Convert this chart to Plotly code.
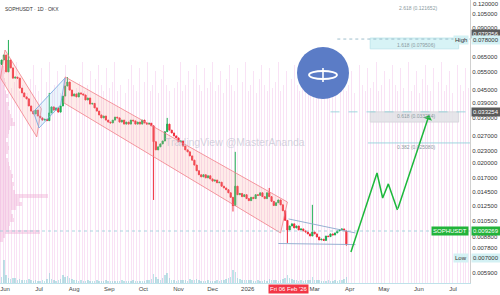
import numpy as np
import pandas as pd
import plotly.graph_objects as go

# ---------------- data ----------------
start_date = "2025-05-29"
closes = [
    0.0630, 0.0666, 0.0552, 0.0630, 0.0577, 0.0515, 0.0521, 0.0515, 0.0461, 0.0437,
    0.0418, 0.0409, 0.0378, 0.0357, 0.0346, 0.0361, 0.0338, 0.0331, 0.0323, 0.0326,
    0.0321, 0.0350, 0.0374, 0.0361, 0.0370, 0.0353, 0.0378, 0.0422, 0.0472, 0.0493,
    0.0451, 0.0422, 0.0432, 0.0418, 0.0437, 0.0432, 0.0427, 0.0404, 0.0413, 0.0386,
    0.0389, 0.0370, 0.0357, 0.0342, 0.0331, 0.0338, 0.0323, 0.0316, 0.0313, 0.0323,
    0.0334, 0.0331, 0.0316, 0.0323, 0.0309, 0.0316, 0.0309, 0.0323, 0.0320, 0.0309,
    0.0316, 0.0309, 0.0323, 0.0313, 0.0309, 0.0312, 0.0303, 0.0254, 0.0232, 0.0240,
    0.0248, 0.0256, 0.0284, 0.0309, 0.0289, 0.0280, 0.0271, 0.0265, 0.0254, 0.0256,
    0.0242, 0.0232, 0.0227, 0.0217, 0.0207, 0.0196, 0.0184, 0.0176, 0.0172, 0.0176,
    0.0170, 0.0174, 0.0168, 0.0164, 0.0166, 0.0161, 0.0162, 0.0155, 0.0152, 0.0149,
    0.0144, 0.0137, 0.0125, 0.0155, 0.0141, 0.0143, 0.0138, 0.0141, 0.0135, 0.0132,
    0.0137, 0.0135, 0.0141, 0.0140, 0.0144, 0.0138, 0.0135, 0.0144, 0.0138, 0.0131,
    0.0125, 0.0129, 0.0133, 0.0126, 0.0118, 0.0106, 0.00953, 0.00996, 0.0102, 0.00975,
    0.00996, 0.00953, 0.00964, 0.00943, 0.00932, 0.00912, 0.00891, 0.00932, 0.00912, 0.00881,
    0.00853, 0.00860, 0.00848, 0.00891, 0.00885, 0.00912, 0.00901, 0.00922, 0.00943, 0.00953,
    0.00964, 0.00943, 0.00816,
]
first_open = 0.0600
spike_high = {3: 0.0787, 21: 0.0437, 29: 0.0521, 67: 0.0303, 73: 0.0331,
              103: 0.0227, 118: 0.0152, 137: 0.0126}
spike_low = {67: 0.0133, 102: 0.0117, 126: 0.00825, 152: 0.0080}

volumes = [
    6, 23, 8, 5, 4, 5, 5, 3, 4, 3,
    3, 3, 4, 3, 2, 3, 2, 2, 3, 2,
    4, 10, 4, 3, 2, 3, 4, 8, 6, 7,
    5, 4, 3, 3, 2, 3, 2, 2, 3, 2,
    2, 2, 3, 2, 2, 2, 3, 2, 2, 2,
    2, 2, 2, 3, 2, 2, 2, 2, 3, 2,
    2, 2, 2, 2, 3, 3, 4, 9, 6, 4,
    3, 5, 8, 10, 5, 3, 3, 2, 3, 3,
    3, 3, 2, 4, 3, 3, 4, 3, 2, 2,
    2, 3, 2, 2, 2, 3, 2, 3, 3, 4,
    5, 6, 13, 11, 5, 4, 3, 3, 3, 3,
    3, 2, 2, 3, 2, 2, 3, 2, 4, 3,
    3, 3, 2, 3, 4, 5, 8, 5, 4, 3,
    3, 2, 3, 2, 3, 3, 3, 6, 3, 3,
    3, 2, 2, 2, 3, 2, 2, 3, 2, 3,
    3, 4, 6,
]

# visible-range volume profile (price level, volume)
vp_prices = [0.06025, 0.05763, 0.05512, 0.05273, 0.05043, 0.04824, 0.04614, 0.04413,
             0.04221, 0.04038, 0.03862, 0.03694, 0.03533, 0.03380, 0.03233, 0.03092,
             0.02958, 0.02829, 0.02706, 0.02588, 0.02476, 0.02368, 0.02265, 0.02167,
             0.02072, 0.01982, 0.01896, 0.01814, 0.01735, 0.01659, 0.01587, 0.01518,
             0.01452, 0.01389, 0.01329, 0.01271, 0.01216, 0.01163, 0.01112, 0.01064,
             0.01018, 0.00973, 0.00931, 0.00890, 0.00852]
vp_volumes = [3, 4, 5, 4, 5, 6, 5, 6, 7, 6, 8, 7, 9, 10, 12, 14, 9, 8, 7, 6,
              7, 8, 7, 6, 7, 8, 9, 10, 12, 11, 13, 12, 14, 45, 18, 20, 15, 10, 12, 13,
              9, 8, 37, 5, 3]

# drawings
channel1_dates = ["2025-06-01", "2025-07-03", "2025-06-29", "2025-05-28"]
channel1_prices = [0.0704, 0.0366, 0.0268, 0.0516]
rising_dates = ["2025-06-26", "2025-07-24", "2025-07-20", "2025-07-01"]
rising_prices = [0.0354, 0.0516, 0.0382, 0.0296]
channel2_dates = ["2025-07-24", "2026-02-05", "2026-01-30", "2025-07-23"]
channel2_prices = [0.0522, 0.0130, 0.00922, 0.0391]
tri_upper_dates = ["2026-02-06", "2026-04-06"]
tri_upper_prices = [0.01077, 0.00922]
tri_lower_dates = ["2026-01-28", "2026-04-06"]
tri_lower_prices = [0.0082, 0.0081]
proj_dates = ["2026-04-02", "2026-04-25", "2026-04-30", "2026-05-05", "2026-05-13"]
proj_prices = [0.00746, 0.01795, 0.0136, 0.0159, 0.0119]
arrow_tip_date, arrow_tip_price = "2026-06-10", 0.0342

current_price = 0.00942
current_label = "0.009269"

fib_texts = ["2.618 (0.121652)", "1.618 (0.079506)", "0.618 (0.033254)", "0.382 (0.025080)"]
fib_line_prices = [0.0795, 0.0354, 0.02506]

ytick_vals = [0.105, 0.09, 0.065, 0.055, 0.045, 0.039, 0.033, 0.027, 0.023,
              0.020, 0.017, 0.0145, 0.0125, 0.0105, 0.0088, 0.0078, 0.0059]
top_tick = 0.12
month_ticks = ["2025-06-01", "2025-07-01", "2025-08-01", "2025-09-01", "2025-10-01",
               "2025-11-01", "2025-12-01", "2026-01-01", "2026-03-01", "2026-04-01",
               "2026-05-01", "2026-06-01", "2026-07-01"]
month_labels = ["Jun", "Jul", "Aug", "Sep", "Oct", "Nov", "Dec", "2026", "Mar", "Apr",
                "May", "Jun", "Jul"]
stripe_pattern = [0.77, 0.70, 0.68, 0.76, 0.69, 0.71, 0.78, 0.68, 0.70, 0.75, 0.67, 0.72]

# ---------------- build ----------------
X0, X1 = "2025-05-27 14:00", "2026-07-16 00:00"
ylo, yhi = 0.005286, 0.1227
DAY = 86400000

dates = pd.date_range(start_date, periods=len(closes), freq="2D")
opens = [first_open] + closes[:-1]
highs = [spike_high.get(i, max(o, c)) for i, (o, c) in enumerate(zip(opens, closes))]
lows = [spike_low.get(i, min(o, c)) for i, (o, c) in enumerate(zip(opens, closes))]

fig = go.Figure()

# background stripes (base subplot)
stripe_x = pd.date_range("2025-05-28", X1, freq="57h36min")
stripe_y = [stripe_pattern[i % len(stripe_pattern)] for i in range(len(stripe_x))]
fig.add_trace(go.Bar(x=stripe_x, y=stripe_y, width=0.8 * DAY, yaxis="y",
                     marker=dict(color="rgba(240,185,232,0.42)", line=dict(width=0)),
                     hoverinfo="skip"))

# volume profile
fig.add_trace(go.Bar(y=np.log10(vp_prices), x=[v * 0.95 * DAY for v in vp_volumes],
                     base=X0, orientation="h", width=0.016, yaxis="y2",
                     marker=dict(color="rgba(236,160,205,0.38)", line=dict(width=0)),
                     hoverinfo="skip"))

# volume
fig.add_trace(go.Bar(x=dates, y=volumes, width=1.3 * DAY, yaxis="y3",
                     marker=dict(color="rgba(110,195,205,0.45)", line=dict(width=0)),
                     hoverinfo="skip"))

def poly(dts, prs, fill, line):
    fig.add_trace(go.Scatter(x=dts + dts[:1], y=prs + prs[:1], yaxis="y4", mode="lines",
                             fill="toself", fillcolor=fill, line=dict(color=line, width=1),
                             hoverinfo="skip"))

poly(channel1_dates, channel1_prices, "rgba(250,170,155,0.22)", "rgba(240,120,130,0.75)")
poly(channel2_dates, channel2_prices, "rgba(250,170,155,0.22)", "rgba(240,120,130,0.75)")
poly(rising_dates, rising_prices, "rgba(160,215,240,0.22)", "rgba(120,170,225,0.85)")

def line(dts, prs, color, width=1, dash="solid"):
    fig.add_trace(go.Scatter(x=dts, y=prs, yaxis="y4", mode="lines",
                             line=dict(color=color, width=width, dash=dash), hoverinfo="skip"))

line(tri_upper_dates, tri_upper_prices, "rgba(140,170,205,0.9)")
line(tri_lower_dates, tri_lower_prices, "rgba(140,170,205,0.9)")
line([X0, X1], [current_price] * 2, "rgba(150,205,215,0.8)", 1, "dot")

# fib boxes
box_d = ["2026-04-19", "2026-07-06"]
poly([box_d[0], box_d[1], box_d[1], box_d[0]], [0.0804, 0.0804, 0.0713, 0.0713],
     "rgba(205,240,244,0.8)", "rgba(190,230,236,0.9)")
poly([box_d[0], box_d[1], box_d[1], box_d[0]], [0.0354, 0.0354, 0.0316, 0.0316],
     "rgba(226,226,230,0.85)", "rgba(215,215,220,0.9)")
line(["2026-03-21", X1], [fib_line_prices[0]] * 2, "rgba(150,185,200,0.9)", 1, "dot")
line(["2026-03-15", X1], [fib_line_prices[1]] * 2, "rgba(150,210,220,0.9)", 1, "dash")
line(["2026-04-17", X1], [fib_line_prices[2]] * 2, "rgba(150,210,220,0.9)", 1)

# candles
fig.add_trace(go.Candlestick(x=dates, open=opens, high=highs, low=lows, close=closes,
                             yaxis="y4", whiskerwidth=0,
                             increasing=dict(line=dict(color="#1fae55", width=1), fillcolor="#1fae55"),
                             decreasing=dict(line=dict(color="#f0313f", width=1), fillcolor="#f0313f"),
                             hoverinfo="skip"))

# projection
line(proj_dates, proj_prices, "#1db83c", 1.5)

ann = []
ann.append(dict(x=arrow_tip_date, y=np.log10(arrow_tip_price), xref="x", yref="y4",
                ax=proj_dates[-1], ay=np.log10(proj_prices[-1]), axref="x", ayref="y4",
                text="", showarrow=True, arrowhead=1, arrowsize=1, arrowwidth=1.5,
                arrowcolor="#1db83c"))

def rlabel(price, text, bg, fc="white", anchor="left", xs=0, ys=0):
    ann.append(dict(x=1, xref="paper", y=np.log10(price), yref="y4", text=text,
                    showarrow=False, xanchor=anchor, xshift=xs, yshift=ys, bgcolor=bg,
                    borderpad=1, font=dict(size=6, color=fc)))

rlabel(top_tick, f"{top_tick:.6f}", "rgba(0,0,0,0)", "#333", xs=1, ys=-2)
rlabel(0.0841, "0.079356", "#5a5a5a", "white", xs=1)
rlabel(0.0787, "0.078000", "#d4f1f4", "#333", xs=1)
rlabel(0.0787, "High", "#d4f1f4", "#333", anchor="right", xs=-1)
rlabel(0.0354, "0.033254", "#5a5a5a", "white", xs=1)
rlabel(current_price, current_label, "#22b33a", "white", xs=1)
rlabel(current_price, "SOPHUSDT", "#22b33a", "white", anchor="right", xs=-1)
rlabel(0.0070, "0.007000", "#d4f1f4", "#333", xs=1)
rlabel(0.0070, "Low", "#d4f1f4", "#333", anchor="right", xs=-1)

fibc = "#8a9aa0"
ann.append(dict(x="2026-05-31", xref="x", y=0.989, yref="paper", text=fib_texts[0],
                showarrow=False, font=dict(size=5, color=fibc)))
for txt, pr in zip(fib_texts[1:], [0.0744, 0.0338, 0.0240]):
    ann.append(dict(x="2026-05-29", xref="x", y=np.log10(pr), yref="y4", text=txt,
                    showarrow=False, font=dict(size=5, color=fibc)))

ann.append(dict(x=0.006, y=0.985, xref="paper", yref="paper", text="SOPHUSDT · 1D · OKX",
                showarrow=False, xanchor="left", font=dict(size=5, color="#333")))
ann.append(dict(x=0.5, y=0.498, xref="paper", yref="paper", text="TradingView @MasterAnanda",
                showarrow=False, font=dict(size=10.5, color="rgba(175,180,195,0.55)")))
ann.append(dict(x="2026-02-06", xref="x", y=0, yref="paper", yanchor="top", yshift=-1,
                text="Fri 06 Feb '26", showarrow=False, bgcolor="#f23645", borderpad=1,
                font=dict(size=6, color="white")))

# logo
W, H = 470.0, 283.0
shapes = [
    dict(type="circle", xref="paper", yref="paper", x0=297 / W, x1=349 / W,
         y0=1 - 99 / H, y1=1 - 47 / H, fillcolor="#5b7cc6", line=dict(width=0), layer="above"),
    dict(type="circle", xref="paper", yref="paper", x0=309 / W, x1=337 / W,
         y0=1 - 79 / H, y1=1 - 71 / H, fillcolor="rgba(0,0,0,0)",
         line=dict(color="white", width=1.8), layer="above"),
    dict(type="line", xref="paper", yref="paper", x0=323 / W, x1=323 / W,
         y0=1 - 82 / H, y1=1 - 68 / H, line=dict(color="white", width=1.6), layer="above"),
]

fig.update_layout(
    width=500, height=295, margin=dict(l=0, r=30, t=0, b=12),
    paper_bgcolor="white", plot_bgcolor="white", showlegend=False,
    font=dict(family="Liberation Sans, Arial, sans-serif"),
    bargap=0, barmode="overlay",
    xaxis=dict(type="date", range=[X0, X1], showgrid=False, zeroline=False,
               tickvals=month_ticks, ticktext=month_labels, ticks="",
               tickfont=dict(size=6, color="#444"), showline=True, linecolor="#bfe2ea",
               rangeslider=dict(visible=False), automargin=False),
    yaxis=dict(range=[0, 1], visible=False, fixedrange=True),
    yaxis2=dict(range=[np.log10(ylo), np.log10(yhi)], overlaying="y", visible=False),
    yaxis3=dict(range=[0, 283], overlaying="y", visible=False),
    yaxis4=dict(type="log", range=[np.log10(ylo), np.log10(yhi)], overlaying="y",
                side="right", showgrid=False, zeroline=False, tickvals=ytick_vals,
                ticktext=[f"{v:.6f}" for v in ytick_vals], ticks="",
                tickfont=dict(size=6, color="#333"), showline=True, linecolor="#d0d0d0",
                automargin=False),
    annotations=ann, shapes=shapes,
)

fig.write_html("out.html")
